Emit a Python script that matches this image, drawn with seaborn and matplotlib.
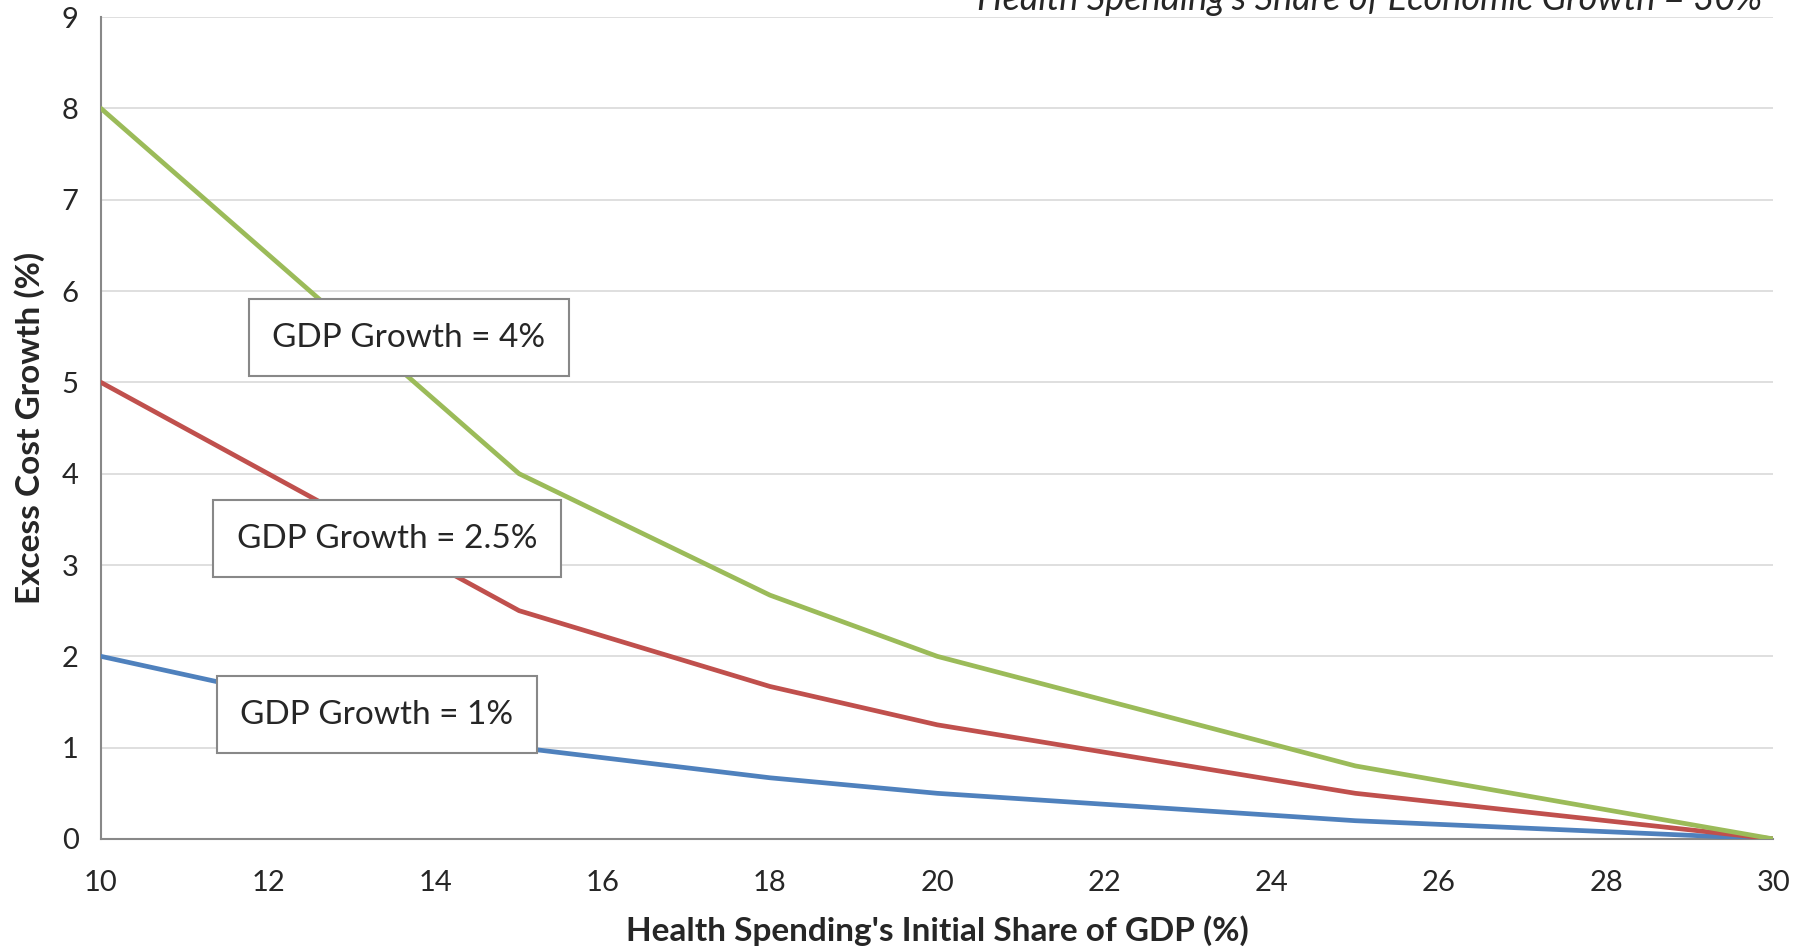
import seaborn as sns
import matplotlib.pyplot as plt
import pandas as pd

# Values
share = [10, 15, 18, 20, 25, 30]
growth_1 = [2.0, 1.0, 0.67, 0.5, 0.2, 0.0]
growth_25 = [5.0, 2.5, 1.67, 1.25, 0.5, 0.0]
growth_4 = [8.0, 4.0, 2.67, 2.0, 0.8, 0.0]
series = ['GDP Growth = 1%', 'GDP Growth = 2.5%', 'GDP Growth = 4%']
colors = ['#4F81BD', '#C0504D', '#9BBB59']
label_pos = [(13.3, 1.36), (13.42, 3.29), (13.68, 5.49)]

df = pd.concat([
    pd.DataFrame({'share': share, 'ecg': vals, 'series': name})
    for name, vals in zip(series, [growth_1, growth_25, growth_4])
])

sns.set_style("white")
plt.rcParams['font.family'] = ['Lato', 'DejaVu Sans']

fig = plt.figure(figsize=(18.06, 9.51), dpi=100)
ax = fig.add_axes([0.0559, 0.1178, 0.9261, 0.8642])

sns.lineplot(data=df, x='share', y='ecg', hue='series', hue_order=series,
             palette=colors, linewidth=3.4, legend=False, ax=ax, zorder=3)

ax.set_xlim(10, 30)
ax.set_ylim(0, 9)
ax.set_xticks(range(10, 31, 2))
ax.set_yticks(range(0, 10))
ax.yaxis.grid(True, color='#D9D9D9', linewidth=1.2)
ax.set_axisbelow(True)
for s in ['top', 'right']:
    ax.spines[s].set_visible(False)
for s in ['left', 'bottom']:
    ax.spines[s].set_color('#888888')
    ax.spines[s].set_linewidth(1.5)
ax.tick_params(axis='x', direction='out', length=8, color='#888888', width=1.2,
               labelsize=21, pad=14)
ax.tick_params(axis='y', length=0, labelsize=21, pad=16)

ax.set_xlabel("Health Spending's Initial Share of GDP (%)", fontsize=24,
              fontweight='bold', labelpad=14)
ax.set_ylabel('Excess Cost Growth (%)', fontsize=24, fontweight='bold', labelpad=12)

for name, (x, y) in zip(series, label_pos):
    ax.text(x, y, name, fontsize=24, ha='center', va='center', zorder=5,
            bbox=dict(boxstyle='square,pad=0.7', facecolor='white',
                      edgecolor='#888888', linewidth=1.5))

fig.text(0.9757, 1.0, "Health Spending's Share of Economic Growth = 30%",
         fontsize=26, style='italic', ha='right', va='center')

plt.savefig('out.png', dpi=100)
